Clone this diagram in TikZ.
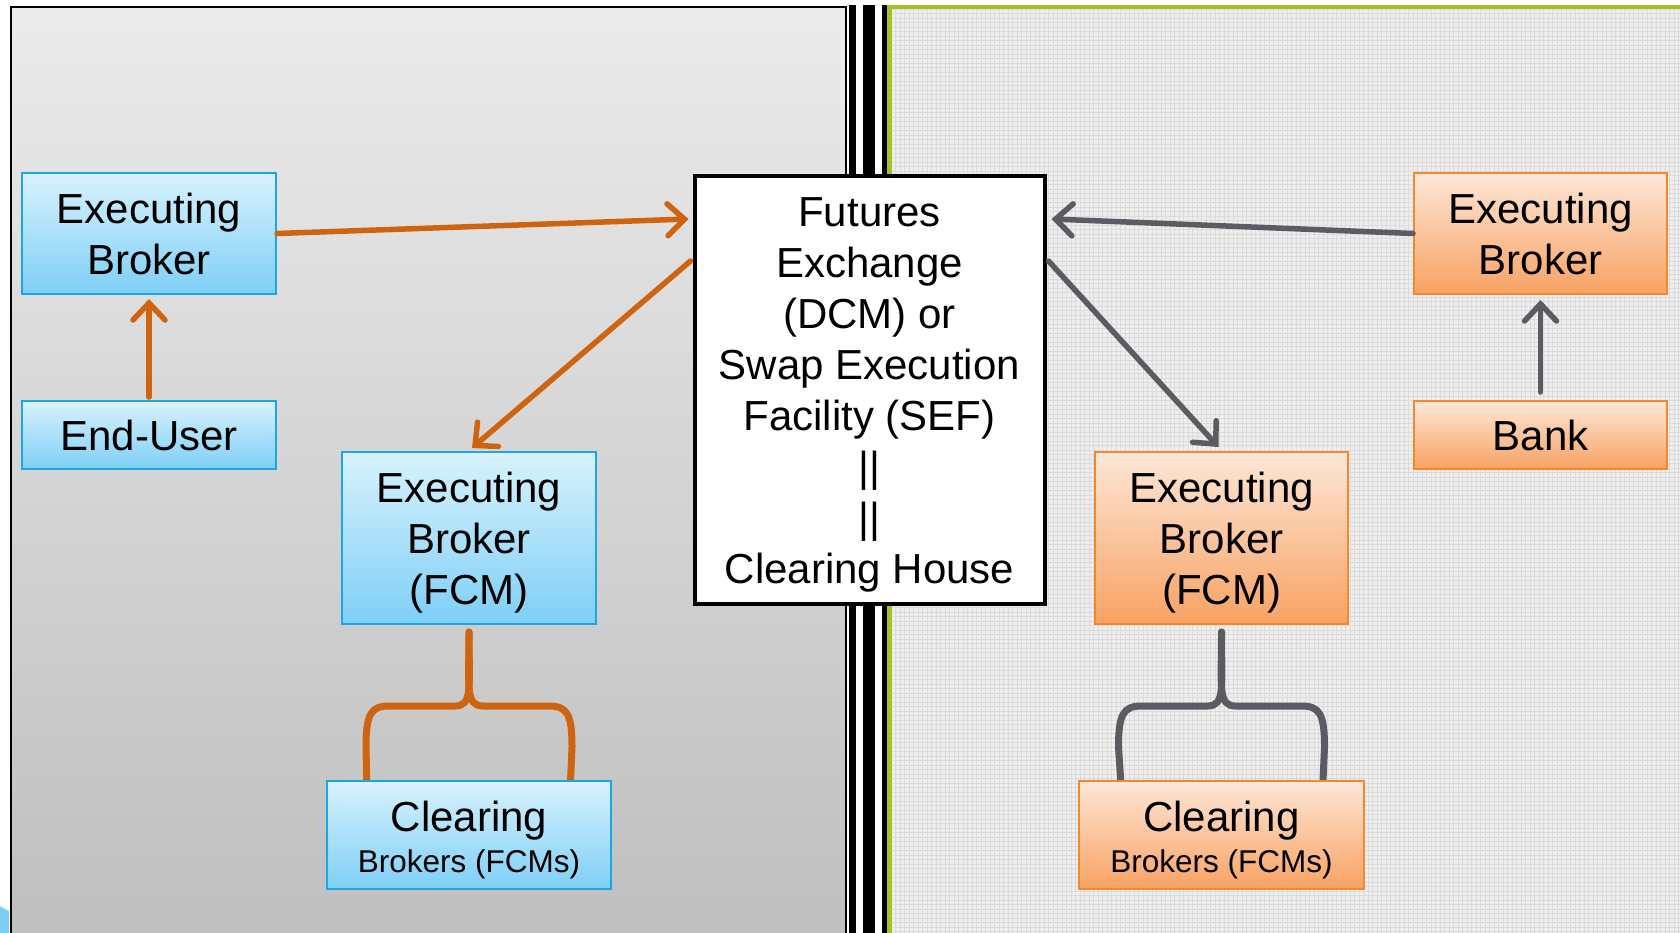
\documentclass[tikz,border=0pt]{standalone}
\usepackage{fontspec}
\setmainfont{Liberation Sans}
\usetikzlibrary{arrows.meta,calc}
\definecolor{arrOr}{HTML}{CF6410}
\definecolor{arrGr}{HTML}{5B5C61}
\definecolor{bTop}{HTML}{D8F2FD}
\definecolor{bBot}{HTML}{7ECFF6}
\definecolor{bEdge}{HTML}{1BA6E6}
\definecolor{oTop}{HTML}{FDE7D8}
\definecolor{oBot}{HTML}{F8A262}
\definecolor{oEdge}{HTML}{F4882C}
\definecolor{lpTop}{HTML}{EBEBEB}
\definecolor{lpBot}{HTML}{BEBEBE}
\definecolor{rpBg}{HTML}{EEEEEE}
\definecolor{rpGrid}{HTML}{DCDCDC}
\definecolor{grn}{HTML}{A3C12A}
\tikzset{
  bluebox/.style={draw=bEdge, line width=2pt, top color=bTop, bottom color=bBot, align=center, inner sep=0pt, font=\fontsize{42}{51}\selectfont},
  orbox/.style={draw=oEdge, line width=2pt, top color=oTop, bottom color=oBot, align=center, inner sep=0pt, font=\fontsize{42}{51}\selectfont},
  centerbox/.style={draw=black, line width=4pt, fill=white, align=center, inner sep=0pt, font=\fontsize{42}{51}\selectfont},
  orarrow/.style={draw=arrOr, line width=5.5pt, line cap=round, -{Straight Barb[length=17pt,width=32pt,line cap=round]}},
  grarrow/.style={draw=arrGr, line width=5.5pt, line cap=round, -{Straight Barb[length=17pt,width=32pt,line cap=round]}},
  orbrace/.style={draw=arrOr, line width=7pt, line cap=round},
  grbrace/.style={draw=arrGr, line width=7pt, line cap=round},
}
\newcommand{\smalltxt}[1]{{\fontsize{31.5}{40}\selectfont #1}}
\newcommand{\tup}[1]{\rule{0pt}{#1}}
\begin{document}
\begin{tikzpicture}[x=1pt,y=-1pt]
\useasboundingbox (0,0) rectangle (1680,933);
\clip (0,0) rectangle (1680,933);
\fill[white] (0,0) rectangle (1680,933);
% left panel
\draw[black, line width=2.5pt, top color=lpTop, bottom color=lpBot] (11,7) rectangle (846,950);
% bottom-left blue fragment
\fill[bBot] (0,906) -- (9,911) -- (9,933) -- (0,933) -- cycle;
% right panel
\fill[rpBg] (892,9) rectangle (1680,933);
\draw[rpGrid, line width=0.7pt, step=4.5pt] (892,9) grid (1680,933);
% divider bars
\fill[black] (849,5) rectangle (856,933);
\fill[black] (863,5) rectangle (875,933);
\fill[black] (882,5) rectangle (887,933);
\fill[grn] (887,5) rectangle (892,933);
\fill[grn] (887,5) rectangle (1680,9.5);

% nodes
\node[bluebox, minimum width=254pt, minimum height=121pt] (leb) at (149,233.5) {Executing\\Broker};
\node[bluebox, minimum width=254pt, minimum height=68pt] (lend) at (149,435) {End-User};
\node[bluebox, minimum width=254pt, minimum height=172pt] (lfcm) at (469,538) {\tup{39pt}Executing\\Broker\\(FCM)};
\node[centerbox, minimum width=350pt, minimum height=428pt] (ctr) at (869.5,390) {\tup{39pt}Futures\\Exchange\\(DCM) or\\Swap Execution\\Facility (SEF)\\||\\||\\Clearing House};
\node[orbox, minimum width=253pt, minimum height=121pt] (reb) at (1540.5,233.5) {Executing\\Broker};
\node[orbox, minimum width=253pt, minimum height=68pt] (bank) at (1540.5,435) {Bank};
\node[orbox, minimum width=253pt, minimum height=172pt] (rfcm) at (1221.5,538) {\tup{39pt}Executing\\Broker\\(FCM)};

% braces (drawn before clearing boxes)
\coordinate (lct) at ($(lfcm.south)+(0,7)$);
\path[orbrace] (lct) .. controls ($(lct)+(0,55)$) and ($(lct)+(4,74)$) .. ($(lct)+(-14,74)$) -- ($(lct)+(-80,74)$) .. controls ($(lct)+(-98,74)$) and ($(lct)+(-103,82)$) .. ($(lct)+(-103,115)$) -- ($(lct)+(-102,160)$);
\path[orbrace] (lct) .. controls ($(lct)+(0,55)$) and ($(lct)+(-4,74)$) .. ($(lct)+(14,74)$) -- ($(lct)+(80,74)$) .. controls ($(lct)+(98,74)$) and ($(lct)+(103,82)$) .. ($(lct)+(103,115)$) -- ($(lct)+(101,160)$);
\coordinate (rct) at ($(rfcm.south)+(0,7)$);
\path[grbrace] (rct) .. controls ($(rct)+(0,55)$) and ($(rct)+(4,74)$) .. ($(rct)+(-14,74)$) -- ($(rct)+(-80,74)$) .. controls ($(rct)+(-98,74)$) and ($(rct)+(-103,82)$) .. ($(rct)+(-103,115)$) -- ($(rct)+(-100,160)$);
\path[grbrace] (rct) .. controls ($(rct)+(0,55)$) and ($(rct)+(-4,74)$) .. ($(rct)+(14,74)$) -- ($(rct)+(80,74)$) .. controls ($(rct)+(98,74)$) and ($(rct)+(103,82)$) .. ($(rct)+(103,115)$) -- ($(rct)+(101,160)$);

\node[bluebox, minimum width=284pt, minimum height=108pt] (lcl) at (469,835) {\tup{40pt}Clearing\\[-10.3pt]\smalltxt{Brokers (FCMs)}};
\node[orbox, minimum width=285pt, minimum height=108pt] (rcl) at (1221.5,835) {\tup{40pt}Clearing\\[-10.3pt]\smalltxt{Brokers (FCMs)}};

% arrows
\path[orarrow] (leb.east) -- ($(ctr.north west)+(-4,45)$);
\path[orarrow] ($(ctr.north west)+(-2,87)$) -- ($(lfcm.north)+(3,-3)$);
\path[orarrow] ($(lend.north)+(0,-3)$) -- ($(leb.south)+(0,4)$);
\path[grarrow] (reb.west) -- ($(ctr.north east)+(5,45)$);
\path[grarrow] ($(ctr.north east)+(2,87)$) -- ($(rfcm.north)+(-3,-4)$);
\path[grarrow] ($(bank.north)+(0,-8)$) -- ($(reb.south)+(0,5)$);
\end{tikzpicture}
\end{document}
